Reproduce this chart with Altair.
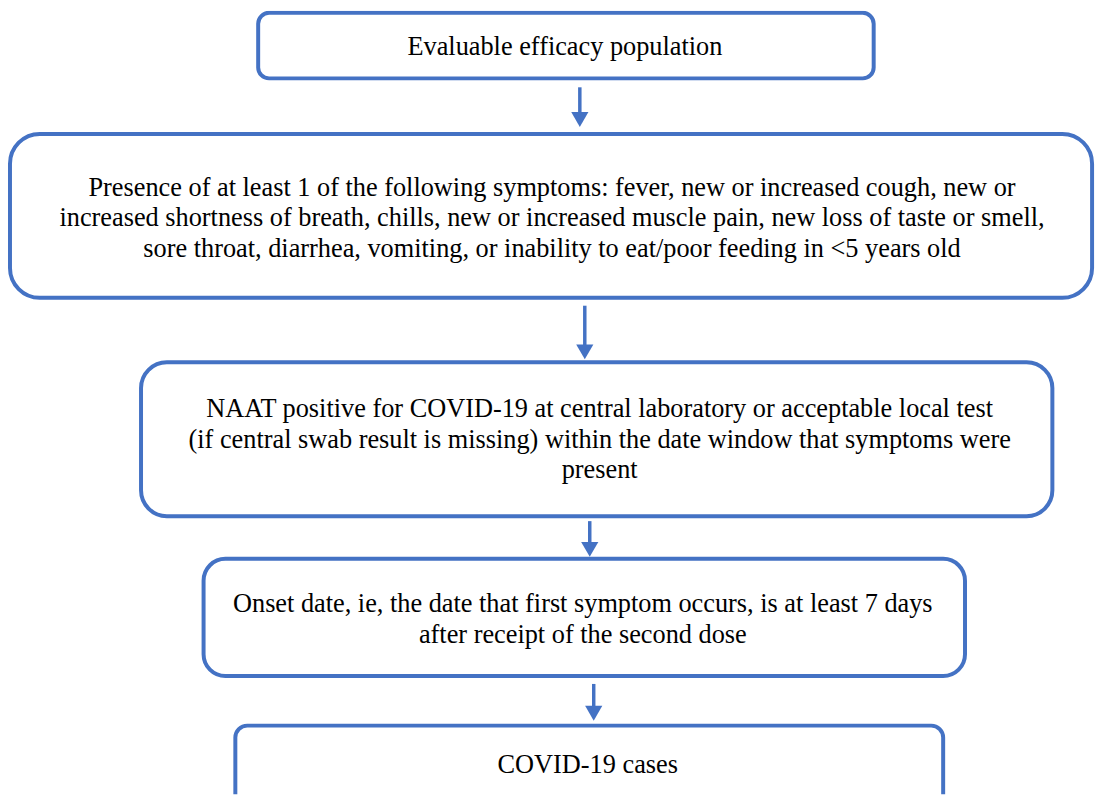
import altair as alt
import pandas as pd

# Flowchart content
labels = [
    "Evaluable efficacy population",
    "Presence of at least 1 of the following symptoms: fever, new or increased cough, new or\n"
    "increased shortness of breath, chills, new or increased muscle pain, new loss of taste or smell,\n"
    "sore throat, diarrhea, vomiting, or inability to eat/poor feeding in <5 years old",
    "NAAT positive for COVID-19 at central laboratory or acceptable local test\n"
    "(if central swab result is missing) within the date window that symptoms were\n"
    "present",
    "Onset date, ie, the date that first symptom occurs, is at least 7 days\n"
    "after receipt of the second dose",
    "COVID-19 cases",
]
box_left = [260, 10, 142, 205, 237]
box_right = [880, 1100, 1060, 972, 950]
box_top = [10, 132, 362, 560, 728]
box_bottom = [76, 297, 517, 678, 812]
box_radius = [11, 30, 26, 22, 12]
text_x = [569, 556, 604, 587, 592]
text_y = [44, 186, 409, 606, 768]   # first-line centres

arrow_x = [584, 589, 594, 598]
arrow_top = [85, 305, 522, 686]
arrow_tip = [125, 359, 558, 723]

BLUE = "#4472C4"
X0, X1, Y0, Y1 = 8, 1111, 8, 797

xs = alt.Scale(domain=[X0, X1], nice=False, zero=False)
ys = alt.Scale(domain=[Y0, Y1], nice=False, zero=False, reverse=True)

layers = []
for i in range(len(labels)):
    d = pd.DataFrame({"x": [box_left[i]], "x2": [box_right[i]],
                      "y": [box_top[i]], "y2": [box_bottom[i]]})
    layers.append(
        alt.Chart(d).mark_rect(cornerRadius=box_radius[i], fill="white",
                               stroke=BLUE, strokeWidth=4, clip=True).encode(
            x=alt.X("x:Q", scale=xs, axis=None),
            x2="x2:Q",
            y=alt.Y("y:Q", scale=ys, axis=None),
            y2="y2:Q",
        )
    )

arr = pd.DataFrame({"x": arrow_x, "y": arrow_top,
                    "y2": [t - 12 for t in arrow_tip], "tip": [t - 7.5 for t in arrow_tip]})
shafts = alt.Chart(arr).mark_rule(color=BLUE, strokeWidth=3.5).encode(
    x=alt.X("x:Q", scale=xs, axis=None),
    y=alt.Y("y:Q", scale=ys, axis=None),
    y2="y2:Q",
)
heads = alt.Chart(arr).mark_point(shape="triangle-down", filled=True, color=BLUE,
                                  opacity=1, size=300).encode(
    x=alt.X("x:Q", scale=xs, axis=None),
    y=alt.Y("tip:Q", scale=ys, axis=None),
)

txt = pd.DataFrame({"label": labels, "x": text_x, "y": text_y})
texts = alt.Chart(txt).mark_text(font="Liberation Serif", fontSize=26.5, color="#000000",
                                 align="center", baseline="middle",
                                 lineBreak="\n", lineHeight=31).encode(
    x=alt.X("x:Q", scale=xs, axis=None),
    y=alt.Y("y:Q", scale=ys, axis=None),
    text="label:N",
)

chart = alt.layer(*layers, shafts, heads, texts).properties(
    width=X1 - X0, height=Y1 - Y0, padding=0, background="white"
).configure_view(stroke=None)

chart.save("out.html", embed_options={"renderer": "svg", "actions": False})
